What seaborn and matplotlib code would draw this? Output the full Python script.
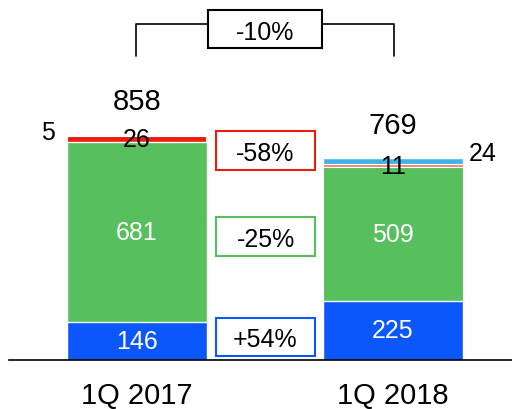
import matplotlib
matplotlib.use('Agg')
import matplotlib.pyplot as plt
from matplotlib.patches import Rectangle
from matplotlib.lines import Line2D
import seaborn as sns

# chart data
quarters = ['1Q 2017', '1Q 2018']
seg_blue = [146, 225]
seg_green = [681, 509]
seg_red = [26, 11]
seg_top = [5, 24]

col_blue = '#0b57fb'
col_green = '#57bf5d'
red_cols = ['#ee1c0a', '#f4857a']
top_cols = ['#41b4e6', '#41b4e6']

sns.set_style('white')
plt.rcParams['font.family'] = ['Liberation Sans', 'DejaVu Sans']
plt.rcParams['text.color'] = 'black'
plt.rcParams['xtick.color'] = 'black'

W, H = 512, 410
fig = plt.figure(figsize=(W / 100, H / 100), dpi=100)
base_px = 361
ax = fig.add_axes([9 / W, (H - base_px) / H, (W - 9) / W, base_px / H])

cum_red = [b + g + r for b, g, r in zip(seg_blue, seg_green, seg_red)]
cum_green = [b + g for b, g in zip(seg_blue, seg_green)]
totals = [c + t for c, t in zip(cum_red, seg_top)]

bw = 140 / 256
# drawn from the full stack down, each layer covering the one behind it
layers = [
    (totals, top_cols, [1.0, 1.0]),
    (cum_red, red_cols, [1.5, 0.8]),   # thicker gap hides the tiny 2017 top piece
    (cum_green, [col_green, col_green], [1.0, 0.8]),
    (seg_blue, [col_blue, col_blue], [1.0, 1.0]),
]
for vals, cols, lws in layers:
    n0 = len(ax.patches)
    sns.barplot(x=quarters, y=vals, hue=quarters, palette=cols, width=bw, saturation=1,
                edgecolor='white', linewidth=1.0, legend=False, ax=ax)
    for p, lw in zip(ax.patches[n0:], lws):
        p.set_linewidth(lw)

ax.set_xlim(-0.5, (W - 137) / 256)
ax.set_ylim(0, base_px / 0.263)
ax.set_xlabel('')
ax.set_ylabel('')
ax.set_yticks([])
ax.tick_params(axis='x', length=0, pad=15, labelsize=21, labelcolor='black')
for s in ['top', 'left', 'right']:
    ax.spines[s].set_visible(False)
ax.spines['bottom'].set_color('black')
ax.spines['bottom'].set_linewidth(1.2)

# value labels
for i in range(len(quarters)):
    ax.text(i, seg_blue[i] / 2, str(seg_blue[i]), ha='center', va='center',
            color='white', fontsize=18)
    ax.text(i, seg_blue[i] + seg_green[i] / 2, str(seg_green[i]), ha='center',
            va='center', color='white', fontsize=18)
    ax.text(i, cum_green[i] + seg_red[i] / 2, str(seg_red[i]), ha='center',
            va='center', color='black', fontsize=18)
    ax.annotate(str(totals[i]), (i, totals[i]), xytext=(0, 33),
                textcoords='offset pixels', ha='center', va='center', fontsize=21)

# small top segments sit beside the bars
ax.annotate(str(seg_top[0]), (0 - bw / 2, cum_red[0] + seg_top[0] / 2), xytext=(-19, 3),
            textcoords='offset pixels', ha='center', va='center', fontsize=18)
ax.annotate(str(seg_top[1]), (1 + bw / 2, cum_red[1] + seg_top[1] / 2), xytext=(20, 8),
            textcoords='offset pixels', ha='center', va='center', fontsize=18)


def px_box(x0, y0, x1, y1, text, edge, size):
    fx0, fx1 = x0 / W, x1 / W
    fy0, fy1 = 1 - y1 / H, 1 - y0 / H
    fig.patches.append(Rectangle((fx0, fy0), fx1 - fx0, fy1 - fy0, transform=fig.transFigure,
                                 facecolor='white', edgecolor=edge, linewidth=1.5))
    fig.text((fx0 + fx1) / 2, (fy0 + fy1) / 2, text, ha='center', va='center_baseline',
             fontsize=size, color='black')


def pct(a, b):
    return f'{(b - a) / a * 100:+.0f}%'


# change boxes between the bars
px_box(216, 132, 315, 171, pct(seg_red[0], seg_red[1]), red_cols[0], 18)
px_box(216, 218, 315, 257, pct(seg_green[0], seg_green[1]), col_green, 18)
px_box(216, 319, 315, 357, pct(seg_blue[0], seg_blue[1]), col_blue, 18)

# bracket with total change
for xs, ys in [([136, 136, 208], [57, 25, 25]), ([322, 394, 394], [25, 25, 57])]:
    fig.lines.append(Line2D([x / W for x in xs], [1 - y / H for y in ys],
                            transform=fig.transFigure, color='black', linewidth=1.2))
px_box(208, 11, 322, 49, pct(totals[0], totals[1]), 'black', 18)

fig.savefig('out.png', dpi=100)
